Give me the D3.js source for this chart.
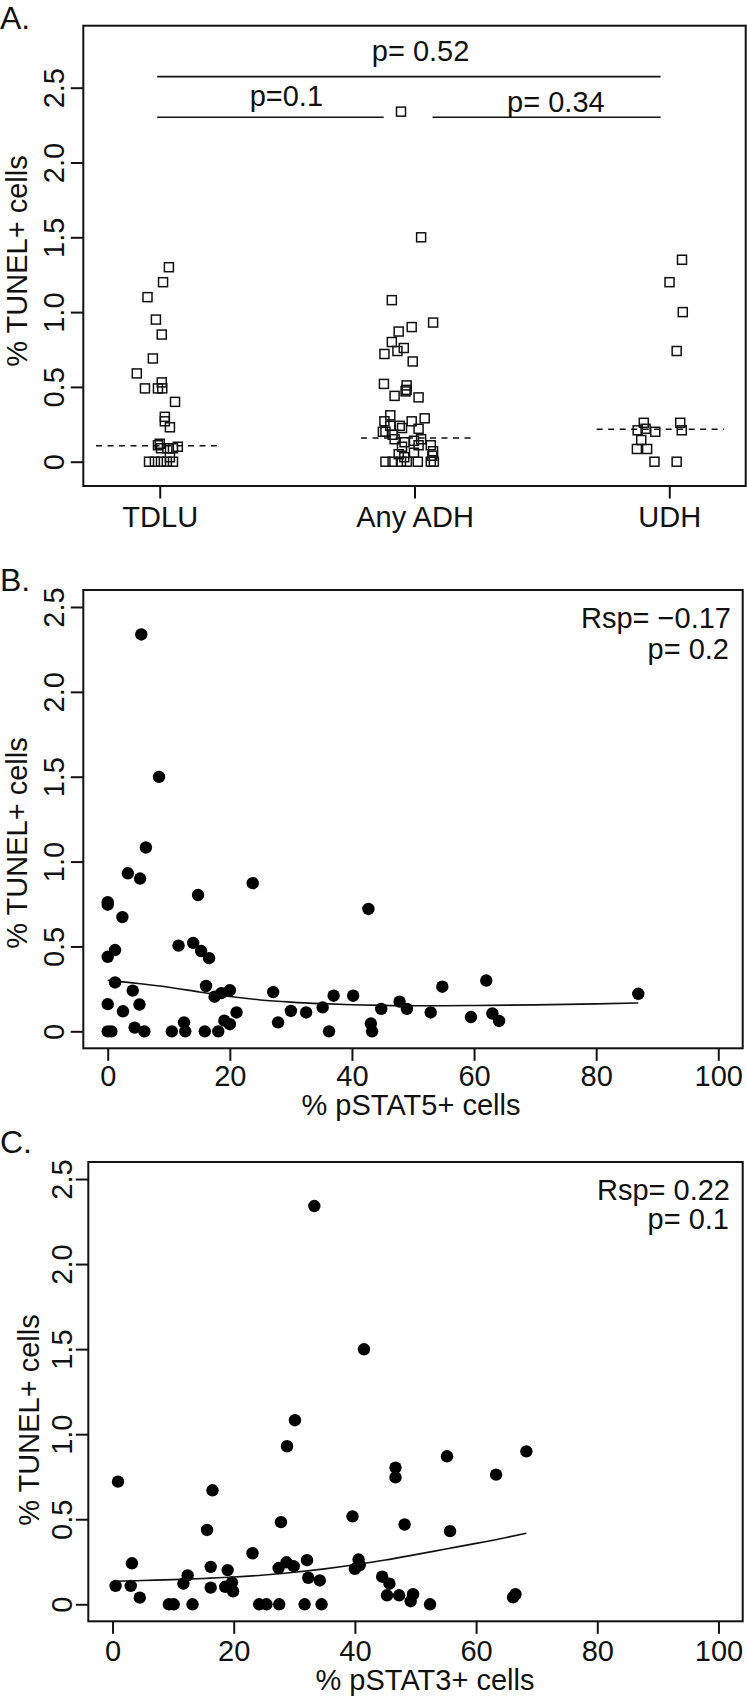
<!DOCTYPE html>
<html>
<head>
<meta charset="utf-8">
<script src="https://cdn.jsdelivr.net/npm/d3@7"></script>
<style>
  html, body { margin: 0; padding: 0; background: #fff; }
  svg { display: block; }
  text { font-family: "Liberation Sans", Arial, Helvetica, sans-serif; fill: #111; }
</style>
</head>
<body>
<svg id="chart" width="747" height="1699"></svg>
<script>
// ---------------- DATA ----------------
const groupLabels = ["TDLU", "Any ADH", "UDH"];
const groupTicks = [1, 2, 3];
const yTicks = [0, 0.5, 1.0, 1.5, 2.0, 2.5];
const yTickLabels = ["0", "0.5", "1.0", "1.5", "2.0", "2.5"];
const xTicks = [0, 20, 40, 60, 80, 100];

// Panel A: jittered positions and % TUNEL+ values
const tdluX = [1.036, 1.013, 0.952, 0.985, 1.008, 0.973, 0.910, 0.942, 0.993, 1.010, 1.008, 1.060, 1.020, 1.020, 1.040,
               0.993, 1.005, 1.000, 1.030, 1.052, 1.071, 0.958, 0.981, 1.005, 1.028, 1.052, 1.040];
const tdluY = [1.30, 1.20, 1.10, 0.95, 0.85, 0.69, 0.59, 0.49, 0.49, 0.49, 0.53, 0.40, 0.30, 0.27, 0.23,
               0.11, 0.09, 0.12, 0.09, 0.09, 0.10, 0, 0, 0, 0, 0, 0.03];
const adhX = [1.947, 2.026, 1.911, 2.073, 1.989, 1.938, 1.911, 1.958, 1.933, 1.882, 1.993, 1.880, 1.969, 1.969, 1.965,
              1.922, 2.016, 2.040, 1.905, 1.882, 1.989, 1.876, 1.905, 1.942, 1.951, 2.016, 1.914, 1.886, 1.922, 1.961,
              1.998, 2.026, 2.016, 1.951, 2.064, 2.073, 1.938, 1.998, 1.886, 1.914, 1.947, 1.970, 2.013, 2.064, 2.076,
              2.070, 1.960];
const adhY = [2.34, 1.50, 1.08, 0.93, 0.90, 0.87, 0.80, 0.76, 0.74, 0.72, 0.67, 0.52, 0.51, 0.48, 0.47,
              0.44, 0.43, 0.29, 0.31, 0.27, 0.27, 0.20, 0.24, 0.24, 0.225, 0.22, 0.18, 0.20, 0.15, 0.13,
              0.14, 0.15, 0.11, 0.10, 0.11, 0.07, 0.05, 0.06, 0, 0, 0, 0, 0, 0, 0,
              0.04, 0.03];
const udhX = [3.050, 3.001, 3.053, 3.029, 3.043, 3.049, 2.900, 2.907, 2.876, 2.945, 2.890, 2.873, 2.913, 2.942, 3.029];
const udhY = [1.35, 1.20, 1.00, 0.74, 0.26, 0.21, 0.26, 0.22, 0.21, 0.20, 0.145, 0.085, 0.085, 0, 0];

const medianY = [0.107, 0.158, 0.217];
const medianX0 = [0.75, 1.79, 2.715];
const medianX1 = [1.245, 2.235, 3.215];

const bracketX0 = [0.99, 0.99, 2.071];
const bracketX1 = [2.966, 1.879, 2.966];
const bracketY = [2.574, 2.302, 2.302];
const bracketLabels = ["p= 0.52", "p=0.1", "p= 0.34"];

// Panel B: % pSTAT5+ vs % TUNEL+
const stat5X = [5.5, 8.4, 6.25, 3.3, 5.3, 23.75, 14.8, 0, 0, 42.7, 2.4, 11.6, 14.0, 1.2, 15.3, 16.6, 0, 1.2, 4.1, 16.1,
                54.8, 62.0, 20, 18.6, 17.5, 27.1, 37.0, 40.2, 86.9, 47.8, 0, 5.2, 35.2, 44.8, 49.0, 30.0, 32.5, 52.9, 2.5, 21.1,
                63.0, 59.5, 64.1, 12.5, 27.9, 19.1, 20, 43.1, 4.4, 0, 0.6, 6.0, 10.5, 12.7, 15.9, 18.1, 36.25, 43.3];
const stat5Y = [2.338, 1.499, 1.083, 0.931, 0.900, 0.873, 0.803, 0.761, 0.746, 0.721, 0.673, 0.505, 0.521, 0.479, 0.473, 0.431, 0.439, 0.288, 0.240, 0.267,
                0.263, 0.299, 0.242, 0.225, 0.204, 0.231, 0.210, 0.210, 0.221, 0.175, 0.160, 0.158, 0.141, 0.132, 0.132, 0.120, 0.111, 0.111, 0.118, 0.111,
                0.105, 0.084, 0.061, 0.053, 0.053, 0.063, 0.042, 0.046, 0.022, 0, 0, 0, 0, 0, 0, 0, 0, 0];
const loess5X = [0, 5, 10, 15, 20, 25, 30, 35, 40, 45, 50, 55, 60, 70, 80, 86.9];
const loess5Y = [0.300, 0.282, 0.260, 0.232, 0.205, 0.185, 0.172, 0.163, 0.157, 0.153, 0.151, 0.151, 0.152, 0.156, 0.162, 0.167];

// Panel C: % pSTAT3+ vs % TUNEL+
const stat3X = [33.3, 41.5, 30.1, 28.8, 68.3, 55.2, 46.7, 46.7, 63.3, 0.9, 16.5, 39.6, 27.8, 48.2, 15.6, 55.7, 23.1, 3.2, 32.1, 40.6,
                28.7, 27.4, 29.9, 16.2, 19.0, 12.4, 40.8, 40.0, 44.5, 32.3, 45.7, 34.2, 11.7, 0.5, 3.0, 16.2, 18.6, 19.7, 19.9, 4.5,
                45.3, 47.3, 49.6, 49.2, 66.1, 66.5, 9.3, 10.1, 13.2, 24.2, 25.4, 27.5, 31.7, 34.5, 52.4];
const stat3Y = [2.341, 1.499, 1.082, 0.929, 0.899, 0.870, 0.803, 0.746, 0.762, 0.721, 0.670, 0.517, 0.483, 0.469, 0.437, 0.430, 0.300, 0.241, 0.259, 0.263,
                0.247, 0.213, 0.224, 0.220, 0.201, 0.170, 0.231, 0.208, 0.162, 0.156, 0.121, 0.140, 0.122, 0.108, 0.108, 0.098, 0.103, 0.128, 0.076, 0.039,
                0.053, 0.053, 0.059, 0.018, 0.041, 0.059, 0, 0, 0, 0, 0, 0, 0, 0, 0];
const loess3X = [0.5, 5, 10, 15, 20, 25, 30, 35, 40, 45, 50, 55, 60, 65, 68.3];
const loess3Y = [0.135, 0.140, 0.145, 0.152, 0.160, 0.172, 0.188, 0.208, 0.232, 0.260, 0.292, 0.325, 0.358, 0.393, 0.418];

// ---------------- LAYOUT ----------------
const FONT_TICK = 29, FONT_TITLE = 29, FONT_NOTE = 29, FONT_PANEL = 32;
const TICK_LEN = 12.5;
const svg = d3.select("#chart");

function yAxisRotated(g, y, labelOffset) {
  const ax = d3.axisLeft(y).tickValues(yTicks).tickSize(TICK_LEN)
    .tickFormat((d, i) => yTickLabels[i]);
  g.call(ax);
  g.select(".domain").remove();
  g.selectAll(".tick line").attr("stroke", "#111").attr("stroke-width", 2);
  g.selectAll(".tick text")
    .attr("x", null).attr("dy", null)
    .attr("text-anchor", "middle")
    .attr("transform", `translate(${-labelOffset},0) rotate(-90)`)
    .style("font-size", FONT_TICK + "px")
    .style("font-family", '"Liberation Sans", Arial, sans-serif')
    .attr("fill", "#111");
}

function xAxisBottom(g, x, ticks, fmt, labelBaseline) {
  const ax = d3.axisBottom(x).tickValues(ticks).tickSize(TICK_LEN).tickFormat(fmt);
  g.call(ax);
  g.select(".domain").remove();
  g.selectAll(".tick line").attr("stroke", "#111").attr("stroke-width", 2);
  g.selectAll(".tick text")
    .attr("y", labelBaseline).attr("dy", null)
    .style("font-size", FONT_TICK + "px")
    .style("font-family", '"Liberation Sans", Arial, sans-serif')
    .attr("fill", "#111");
}

function box(x0, y0, x1, y1) {
  svg.append("rect").attr("x", x0).attr("y", y0).attr("width", x1 - x0).attr("height", y1 - y0)
    .attr("fill", "none").attr("stroke", "#111").attr("stroke-width", 2);
}

function yTitle(xBaseline, yCenter) {
  svg.append("text")
    .attr("transform", `translate(${xBaseline},${yCenter}) rotate(-90)`)
    .attr("text-anchor", "middle")
    .style("font-size", FONT_TITLE + "px")
    .text("% TUNEL+ cells");
}

function panelLetter(txt, baseline) {
  svg.append("text").attr("x", 0).attr("y", baseline)
    .style("font-size", FONT_PANEL + "px").text(txt);
}

// ---------------- PANEL A ----------------
{
  const L = 83.3, R = 745.7, T = 25.7, B = 486;
  const x = d3.scaleLinear().domain([0.7, 3.3]).range([L, R]);
  const y = d3.scaleLinear().domain([0, 2.5]).range([461.7, 87.7]);

  panelLetter("A.", 28.5);

  // median dashed lines
  svg.append("g").selectAll("line").data(medianY).join("line")
    .attr("x1", (d, i) => x(medianX0[i])).attr("x2", (d, i) => x(medianX1[i]))
    .attr("y1", d => y(d)).attr("y2", d => y(d))
    .attr("stroke", "#111").attr("stroke-width", 1.6).attr("stroke-dasharray", "6,5.5");

  const pts = [];
  tdluX.forEach((v, i) => pts.push([v, tdluY[i]]));
  adhX.forEach((v, i) => pts.push([v, adhY[i]]));
  udhX.forEach((v, i) => pts.push([v, udhY[i]]));
  const S = 9;
  svg.append("g").selectAll("rect").data(pts).join("rect")
    .attr("x", d => x(d[0]) - S / 2).attr("y", d => y(d[1]) - S / 2)
    .attr("width", S).attr("height", S)
    .attr("fill", "none").attr("stroke", "#111").attr("stroke-width", 1.5);

  // brackets
  svg.append("g").selectAll("line").data(bracketY).join("line")
    .attr("x1", (d, i) => x(bracketX0[i])).attr("x2", (d, i) => x(bracketX1[i]))
    .attr("y1", d => y(d)).attr("y2", d => y(d))
    .attr("stroke", "#111").attr("stroke-width", 1.6);
  const noteX = [2.024, 1.497, 2.555];
  const noteY = [2.681, 2.378, 2.338];
  svg.append("g").selectAll("text").data(bracketLabels).join("text")
    .attr("x", (d, i) => x(noteX[i])).attr("y", (d, i) => y(noteY[i]))
    .attr("text-anchor", "middle").style("font-size", FONT_NOTE + "px").text(d => d);

  box(L, T, R, B);
  yAxisRotated(svg.append("g").attr("transform", `translate(${L},0)`), y, L - 64);
  xAxisBottom(svg.append("g").attr("transform", `translate(0,${B})`), x, groupTicks,
    (d, i) => groupLabels[i], 41);
  yTitle(27, 261);
}

// ---------------- PANEL B ----------------
{
  const L = 83.3, R = 742.7, T = 590, B = 1048.3;
  const x = d3.scaleLinear().domain([-4, 104]).range([L, R]);
  const y = d3.scaleLinear().domain([-0.1, 2.6]).range([B, T]);

  panelLetter("B.", 591);

  svg.append("g").selectAll("circle").data(stat5X).join("circle")
    .attr("cx", d => x(d)).attr("cy", (d, i) => y(stat5Y[i])).attr("r", 6.2).attr("fill", "#000");

  const line = d3.line().x(d => x(d[0])).y(d => y(d[1])).curve(d3.curveMonotoneX);
  svg.append("path").datum(loess5X.map((v, i) => [v, loess5Y[i]]))
    .attr("d", line).attr("fill", "none").attr("stroke", "#111").attr("stroke-width", 1.6);

  svg.append("text").attr("x", 731).attr("y", 628.3).attr("text-anchor", "end")
    .style("font-size", FONT_NOTE + "px").text("Rsp= \u22120.17");
  svg.append("text").attr("x", 729).attr("y", 658.6).attr("text-anchor", "end")
    .style("font-size", FONT_NOTE + "px").text("p= 0.2");

  box(L, T, R, B);
  yAxisRotated(svg.append("g").attr("transform", `translate(${L},0)`), y, L - 64);
  xAxisBottom(svg.append("g").attr("transform", `translate(0,${B})`), x, xTicks, d3.format("d"), 38);
  yTitle(27, 843);
  svg.append("text").attr("x", 411).attr("y", 1115).attr("text-anchor", "middle")
    .style("font-size", FONT_TITLE + "px").text("% pSTAT5+ cells");
}

// ---------------- PANEL C ----------------
{
  const L = 88.3, R = 742.7, T = 1162, B = 1621.3;
  const x = d3.scaleLinear().domain([-4, 104]).range([L, R]);
  const y = d3.scaleLinear().domain([-0.1, 2.6]).range([B, T]);

  panelLetter("C.", 1153);

  svg.append("g").selectAll("circle").data(stat3X).join("circle")
    .attr("cx", d => x(d)).attr("cy", (d, i) => y(stat3Y[i])).attr("r", 6.2).attr("fill", "#000");

  const line = d3.line().x(d => x(d[0])).y(d => y(d[1])).curve(d3.curveMonotoneX);
  svg.append("path").datum(loess3X.map((v, i) => [v, loess3Y[i]]))
    .attr("d", line).attr("fill", "none").attr("stroke", "#111").attr("stroke-width", 1.6);

  svg.append("text").attr("x", 730).attr("y", 1200.3).attr("text-anchor", "end")
    .style("font-size", FONT_NOTE + "px").text("Rsp= 0.22");
  svg.append("text").attr("x", 729).attr("y", 1229).attr("text-anchor", "end")
    .style("font-size", FONT_NOTE + "px").text("p= 0.1");

  box(L, T, R, B);
  yAxisRotated(svg.append("g").attr("transform", `translate(${L},0)`), y, L - 71.7);
  xAxisBottom(svg.append("g").attr("transform", `translate(0,${B})`), x, xTicks, d3.format("d"), 40);
  yTitle(39, 1420);
  svg.append("text").attr("x", 425).attr("y", 1690).attr("text-anchor", "middle")
    .style("font-size", FONT_TITLE + "px").text("% pSTAT3+ cells");
}
</script>
</body>
</html>
